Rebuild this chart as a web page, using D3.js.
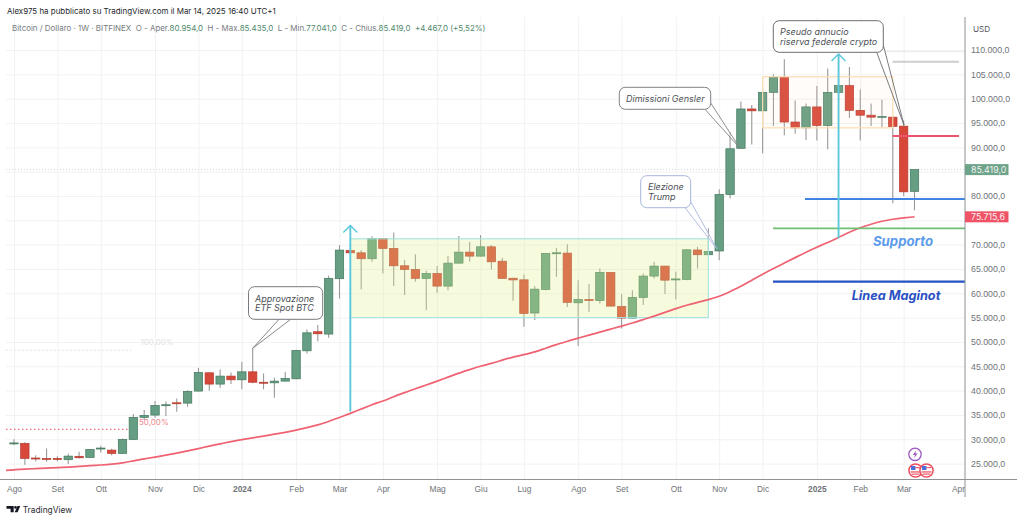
<!DOCTYPE html>
<html>
<head>
<meta charset="utf-8">
<script src="https://cdn.jsdelivr.net/npm/d3@7"></script>
<style>
html, body { margin: 0; padding: 0; background: white; }
svg { display: block; font-family: Inter, "Liberation Sans", sans-serif; }
</style>
</head>
<body>
<svg id="chart" width="1024" height="521"></svg>
<script>
// <data>
// one entry per weekly candle.
var opens = [29050,29150,26150,26050,26050,25800,26500,26270,28050,27770,27100,29970,34490,34970,36960,37500,37430,39900,43660,41340,
    42980,42220,43860,41720,41600,41950,42430,48180,52100,51620,63000,68800,68320,67100,71280,69220,65650,64900,63060,64080,
    61480,66200,68460,67640,69550,66600,63100,62770,55950,60800,68200,68260,58050,58700,58500,64300,57300,54900,59150,63540,
    65590,62750,62850,68900,67920,68700,80300,89800,97880,97500,101300,104400,95200,94000,98300,94500,101300,102700,97600,96600,
    96200,96200,94350,80954];
var closes = [29250,26070,26050,26000,25950,26540,26200,27900,28200,27100,29970,34490,34900,36960,37100,37450,39840,43740,41340,42980,
    42220,43860,41720,41650,41950,42500,48260,51880,51680,63060,68880,68320,67100,71280,69220,65650,64900,63060,64080,61480,
    66200,68460,67640,69550,66470,63060,62750,55860,60850,68200,68330,58130,58700,58500,64300,57370,54900,59150,63540,65590,
    62700,62950,68930,67920,68600,80300,89700,97880,97500,101300,104400,95200,94000,98300,94500,101300,102700,97600,96600,96200,
    96350,94300,80850,85419];
var highs = [30000,29400,26700,28120,26500,27000,27420,28000,28660,28040,30150,35170,36000,37840,37780,38400,40100,44690,43700,44360,
    43740,45920,48700,43540,42630,43800,48400,52580,53460,63600,69900,69200,68880,71700,71380,72500,66820,68040,64620,65590,
    67640,71750,70580,71950,69900,67300,63200,63880,61480,68250,69350,70100,62700,61900,65100,64350,59800,60650,64080,66470,
    65600,64420,69100,69550,73350,81400,93100,99400,98700,102000,105000,108100,99600,99000,102600,106200,109000,106500,101900,99000,
    99800,96400,95500,85435];
var lows = [28800,24750,25450,25370,25500,24900,26070,26200,27300,26700,27000,29950,33940,34490,34760,35650,36670,39840,39960,40580,
    41340,40300,41500,40300,38520,41850,42300,47640,50170,50850,58950,67800,60800,66470,64080,61480,59630,62360,56540,60100,
    60650,66100,66470,67500,64900,63000,58460,53100,54490,60600,63400,57200,49150,56200,57900,57300,52780,54850,57570,63060,
    59830,58750,62700,65120,67800,66800,79500,89700,90600,88800,94400,92500,92800,91500,91400,89600,99500,96000,91400,94400,
    94100,78500,80000,77041];
// moving average, one value per candle. ma_before is just left of the first candle.
var ma_before = 23580;
var ma_values = [23730,23870,23970,24075,24160,24280,24420,24570,24710,24860,25140,25575,25970,26340,26750,27160,27610,28080,28600,29050,
    29520,29930,30280,30650,31060,31410,31880,32400,32950,33630,34490,35320,36200,37120,37840,38770,39590,40410,41130,41950,
    42780,43600,44320,45040,45550,46270,46890,47400,47910,48730,49450,50170,50790,51410,52020,52640,53260,53870,54590,55310,
    56070,56850,57570,58130,58700,59320,60350,61370,62710,63940,65110,66200,67330,68460,69490,70420,71480,72570,73500,74220,
    74830,75240,75490,75715];
var price_ticks = [25000,30000,35000,40000,45000,50000,55000,60000,65000,70000,75000,80000,85000,90000,95000,100000,105000,110000];
var hidden_ticks = [75000,85000];
var month_labels = ["Ago","Set","Ott","Nov","Dic","2024","Feb","Mar","Apr","Mag","Giu","Lug","Ago","Set","Ott","Nov","Dic","2025","Feb","Mar","Apr"];
var month_weeks = [0,4,8,13,17,21,26,30,34,39,43,47,52,56,61,65,69,74,78,82,87];
var last_close = 85419;
var last_ma = 75715.6;
var level_red = 92320;
var level_grey = 107600;
var level_faint = 109700;
var level_blue = 79360;
var level_green = 73350;
var level_maginot = 62400;
var fib_50 = 32030;
var fib_100 = 48300;
var range_low = 55000;
var range_high = 71200;
var top_low = 94000;
var top_high = 104500;
// </data>

// <configurable>
var left_edge = 6;
var axis_x = 965;
var axis_y = 479.5;
var body_width = 8.4;
var green_fill = "#659e83", green_line = "#41785c";
var red_fill = "#d8483a", red_line = "#b5392c";
var wick_color = "#999999";
var grid_color = "#f1f2f3";
var arrow_color = "#5cc8da";
var text_grey = "#6f7378";
// </configurable>

var x = d3.scaleLinear().domain([0,83]).range([14,914.5]);
var y = d3.scaleLinear().domain([25000,110000]).range([463.6,50]);
var it = d3.formatLocale({decimal:",",thousands:".",grouping:[3],currency:["",""]});
var price_fmt = it.format(",.1f");

var svg = d3.select("#chart");
var defs = svg.append("defs");
defs.append("clipPath").attr("id","plot_clip").append("rect")
    .attr("x",left_edge).attr("y",0).attr("width",axis_x-left_edge).attr("height",axis_y);
// applied inside the translated axis group, so y starts at 0 here.
defs.append("clipPath").attr("id","time_clip").append("rect")
    .attr("x",0).attr("y",0).attr("width",axis_x).attr("height",30);

draw_grid();
var plot = svg.append("g").attr("clip-path","url(#plot_clip)");
draw_fibs();
draw_candles();
draw_boxes();
draw_ma();
draw_levels();
draw_arrows();
draw_axes();
draw_callouts();
draw_labels();
draw_header();
draw_icons();

function draw_grid() {
    var g = svg.append("g").attr("class","grid");
    g.call(d3.axisRight(y).tickValues(price_ticks).tickSize(axis_x-left_edge).tickFormat(""))
        .attr("transform","translate(" + left_edge + ",0)");
    g.select(".domain").remove();
    g.selectAll("line").attr("stroke",grid_color);

    var g2 = svg.append("g").attr("class","grid");
    g2.attr("transform","translate(0," + axis_y + ")")
        .call(d3.axisTop(x).tickValues(month_weeks.slice(0,-1)).tickSize(axis_y-17).tickFormat(""));
    g2.select(".domain").remove();
    g2.selectAll("line").attr("stroke",grid_color);
}

function draw_fibs() {
    plot.append("line").attr("x1",left_edge).attr("x2",131)
        .attr("y1",y(fib_100)).attr("y2",y(fib_100))
        .attr("stroke","#d9d9d9").attr("stroke-dasharray","1.5 2.5");
    plot.append("line").attr("x1",left_edge).attr("x2",128)
        .attr("y1",y(fib_50)).attr("y2",y(fib_50))
        .attr("stroke","#ef6c78").attr("stroke-width",1.2).attr("stroke-dasharray","1.5 2.5");
    // dotted line of the last price, right across the plot.
    plot.append("line").attr("x1",left_edge).attr("x2",axis_x)
        .attr("y1",y(last_close)).attr("y2",y(last_close))
        .attr("stroke","#d5d8d6").attr("stroke-dasharray","1 2");
}

function draw_candles() {
    var candles = plot.append("g").selectAll("g").data(d3.range(opens.length)).enter().append("g");
    candles.append("line")
        .attr("x1",function(i) {return x(i);}).attr("x2",function(i) {return x(i);})
        .attr("y1",function(i) {return y(highs[i]);}).attr("y2",function(i) {return y(lows[i]);})
        .attr("stroke",wick_color).attr("stroke-width",1.1);
    candles.append("rect")
        .attr("x",function(i) {return x(i)-body_width/2;})
        .attr("width",body_width)
        .attr("y",function(i) {return y(Math.max(opens[i],closes[i]));})
        .attr("height",function(i) {return Math.max(1,Math.abs(y(opens[i])-y(closes[i])));})
        .attr("fill",function(i) {return closes[i] >= opens[i] ? green_fill : red_fill;})
        .attr("stroke",function(i) {return closes[i] >= opens[i] ? green_line : red_line;})
        .attr("stroke-width",0.7);
}

function draw_boxes() {
    // range boxes sit over the candles and tint them.
    plot.append("rect").attr("x",x(31)).attr("width",x(64)-x(31))
        .attr("y",y(range_high)).attr("height",y(range_low)-y(range_high))
        .attr("fill","#dff08a").attr("fill-opacity",0.28)
        .attr("stroke","#a5e4e0").attr("stroke-width",1.1);
    plot.append("rect").attr("x",x(69)).attr("width",x(81)-x(69))
        .attr("y",y(top_high)).attr("height",y(top_low)-y(top_high))
        .attr("fill","#ffd6ae").attr("fill-opacity",0.08)
        .attr("stroke","#fcdcb0").attr("stroke-width",1.2);
}

function draw_ma() {
    var line = d3.line()
        .x(function(d) {return x(d.i);})
        .y(function(d) {return y(d.v);})
        .curve(d3.curveBasis);
    var pts = [{i:-1,v:ma_before}].concat(ma_values.map(function(v,i) {return {i:i,v:v};}));
    plot.append("path").attr("d",line(pts)).attr("fill","none")
        .attr("stroke","#ef6272").attr("stroke-width",1.7);
}

function level(price,x1,x2,color,width) {
    plot.append("line").attr("x1",x1).attr("x2",x2)
        .attr("y1",y(price)).attr("y2",y(price))
        .attr("stroke",color).attr("stroke-width",width);
}

function draw_levels() {
    level(level_faint,885,axis_x,"#eeeeee",1.5);
    level(level_grey,892.5,959,"#cdcdcd",2);
    level(level_red,892.5,959,"#ec5470",2);
    level(level_blue,805,axis_x,"#3f84e0",2);
    level(level_green,773,axis_x,"#6fbf75",1.8);
    level(level_maginot,773,axis_x,"#2453c4",2.2);
}

function arrow(week,from_price,to_y) {
    var ax = x(week);
    plot.append("line").attr("x1",ax).attr("x2",ax).attr("y1",y(from_price)).attr("y2",to_y)
        .attr("stroke",arrow_color).attr("stroke-width",1.9);
    plot.append("path").attr("d","M" + (ax-7) + "," + (to_y+7) + "L" + ax + "," + to_y + "L" + (ax+7) + "," + (to_y+7))
        .attr("fill","none").attr("stroke",arrow_color).attr("stroke-width",1.4);
}

function draw_arrows() {
    arrow(31,35700,225.5);
    arrow(76,71300,54);
}

function draw_axes() {
    var right = svg.append("g").attr("transform","translate(" + axis_x + ",0)")
        .call(d3.axisRight(y)
            .tickValues(price_ticks.filter(function(t) {return hidden_ticks.indexOf(t) < 0;}))
            .tickSize(0).tickPadding(6).tickFormat(price_fmt));
    right.select(".domain").remove();
    right.selectAll("text").attr("fill",text_grey).style("font-size","8.8px").style("font-family","inherit");

    var bottom = svg.append("g").attr("transform","translate(0," + axis_y + ")")
        .attr("clip-path","url(#time_clip)")
        .call(d3.axisBottom(x).tickValues(month_weeks).tickSize(0).tickPadding(6.5)
            .tickFormat(function(w) {return month_labels[month_weeks.indexOf(w)];}));
    bottom.select(".domain").remove();
    bottom.selectAll("text").attr("fill",text_grey).style("font-family","inherit")
        .style("font-size","8.4px")
        .style("font-weight",function(w) {return month_labels[month_weeks.indexOf(w)].length == 4 ? "700" : "400";});

    svg.append("line").attr("x1",0).attr("x2",1017).attr("y1",axis_y).attr("y2",axis_y)
        .attr("stroke","#8f9194").attr("stroke-width",1);
    svg.append("line").attr("x1",axis_x).attr("x2",axis_x).attr("y1",17).attr("y2",497)
        .attr("stroke","#8f9194").attr("stroke-width",1);
    svg.append("text").attr("x",973).attr("y",31.5).text("USD")
        .attr("fill","#55585c").attr("font-size",8.2);

    price_tag(last_close,price_fmt(last_close),"#6da388");
    price_tag(last_ma,price_fmt(last_ma),"#f05366");
}

function price_tag(price,label,color) {
    svg.append("rect").attr("x",axis_x).attr("width",43.5)
        .attr("y",y(price)-5.5).attr("height",11).attr("fill",color);
    svg.append("text").attr("x",axis_x+6).attr("y",y(price)+3.2).text(label)
        .attr("fill","#f4f4f4").attr("font-size",8.8);
}

// rounded note with a pointer: the pointer is drawn as two lines meeting in the tip.
function callout(rx,ry,rw,rh,tip,base1,base2,lines,tx,border) {
    var g = svg.append("g");
    g.append("polygon").attr("points",[base1,tip,base2].join(" ")).attr("fill","white").attr("fill-opacity",0.35);
    g.append("path").attr("d","M" + base1 + "L" + tip + "L" + base2).attr("fill","none")
        .attr("stroke",border).attr("stroke-width",0.9);
    g.append("rect").attr("x",rx).attr("y",ry).attr("width",rw).attr("height",rh).attr("rx",6)
        .attr("fill","white").attr("stroke",border).attr("stroke-width",1);
    lines.forEach(function(t,i) {
        g.append("text").attr("x",tx).attr("y",ry + rh/2 + 3.3 + (i - (lines.length-1)/2)*9.4)
            .text(t).attr("font-style","italic").attr("font-size",9).attr("fill","#4c4f54");
    });
}

function draw_callouts() {
    callout(248.5,286.7,74.2,32.6,[x(22),y(highs[22])],[279,319.3],[290.7,319.3],["Approvazione","ETF Spot BTC"],255,"#77797d");
    callout(619.3,87.3,91.4,22,[740,148.3],[705,109.3],[710.7,103],["Dimissioni Gensler"],626,"#808285");
    callout(640.7,175.7,50,32,[717,249],[685,207.7],[690.7,201.7],["Elezione","Trump"],648,"#a8b6dd");
    callout(773.3,20.7,110,31.6,[904,125],[876.7,52.3],[883.3,45],["Pseudo annucio","riserva federale crypto"],780,"#6b6d70");
}

function draw_labels() {
    svg.append("text").attr("x",903).attr("y",245.5).attr("text-anchor","middle").text("Supporto")
        .attr("font-size",13.2).attr("font-weight",700).attr("font-style","italic").attr("fill","#5b9bea");
    svg.append("text").attr("x",896).attr("y",299.5).attr("text-anchor","middle").text("Linea Maginot")
        .attr("font-size",12.7).attr("font-weight",700).attr("font-style","italic").attr("fill","#2a51c2");
    svg.append("text").attr("x",139).attr("y",424.8).text("50,00%")
        .attr("font-size",8).attr("fill","#f0878e");
    svg.append("text").attr("x",140.5).attr("y",344.6).text("100,00%")
        .attr("font-size",8).attr("fill","#e4e4e4");
}

function draw_header() {
    svg.append("text").attr("x",7).attr("y",13.5)
        .text("Alex975 ha pubblicato su TradingView.com il Mar 14, 2025 16:40 UTC+1")
        .attr("font-size",7.95).attr("fill","#26282b");
    var legend = svg.append("text").attr("x",12).attr("y",31).attr("font-size",7.95).attr("fill","#777b80");
    var green = "#4f8a6d";
    var parts = [["Bitcoin / Dollaro · 1W · BITFINEX  O - Aper.",0],["80.954,0",1],["  H - Max.",0],["85.435,0",1],
        ["  L - Min.",0],["77.041,0",1],["  C - Chius.",0],["85.419,0",1],["  +4.467,0 (+5,52%)",1]];
    parts.forEach(function(p) {
        legend.append("tspan").attr("xml:space","preserve").style("white-space","pre").text(p[0])
            .attr("fill",p[1] ? green : "#777b80");
    });
}

function flag(cx,cy) {
    var g = svg.append("g");
    g.append("circle").attr("cx",cx).attr("cy",cy).attr("r",6.6).attr("fill","white")
        .attr("stroke","#ee4f5f").attr("stroke-width",1.5);
    g.append("rect").attr("x",cx-4.5).attr("y",cy-4.5).attr("width",4.5).attr("height",4).attr("fill","#4c6fd8");
    g.append("rect").attr("x",cx).attr("y",cy-3.5).attr("width",4.5).attr("height",1.2).attr("fill","#ee5c6a");
    g.append("rect").attr("x",cx-5).attr("y",cy+0.8).attr("width",10).attr("height",1.3).attr("fill","#ee5c6a");
    g.append("rect").attr("x",cx-4).attr("y",cy+3).attr("width",8).attr("height",1.2).attr("fill","#ee5c6a");
}

function draw_icons() {
    svg.append("circle").attr("cx",915).attr("cy",454.3).attr("r",6.2).attr("fill","white")
        .attr("stroke","#9b59c0").attr("stroke-width",1.3);
    svg.append("path").attr("d","M916.3,450.3L912.8,455H915L914,458.3L917.6,453.5H915.4Z").attr("fill","#9b59c0");
    flag(915.5,470.5);
    flag(926.5,470.5);

    // TradingView logo.
    var logo = svg.append("g").attr("fill","#131722");
    logo.append("path").attr("d","M6.5,506H13.7V512.3H10.6V508.8H6.5Z");
    logo.append("circle").attr("cx",15.5).attr("cy",507.4).attr("r",1.3);
    logo.append("path").attr("d","M17.5,506H20.2L17.6,512.3H14.7Z");
    svg.append("text").attr("x",22.7).attr("y",513).text("TradingView")
        .attr("font-size",8.4).attr("fill","#2a2d33");
}
</script>
</body>
</html>
